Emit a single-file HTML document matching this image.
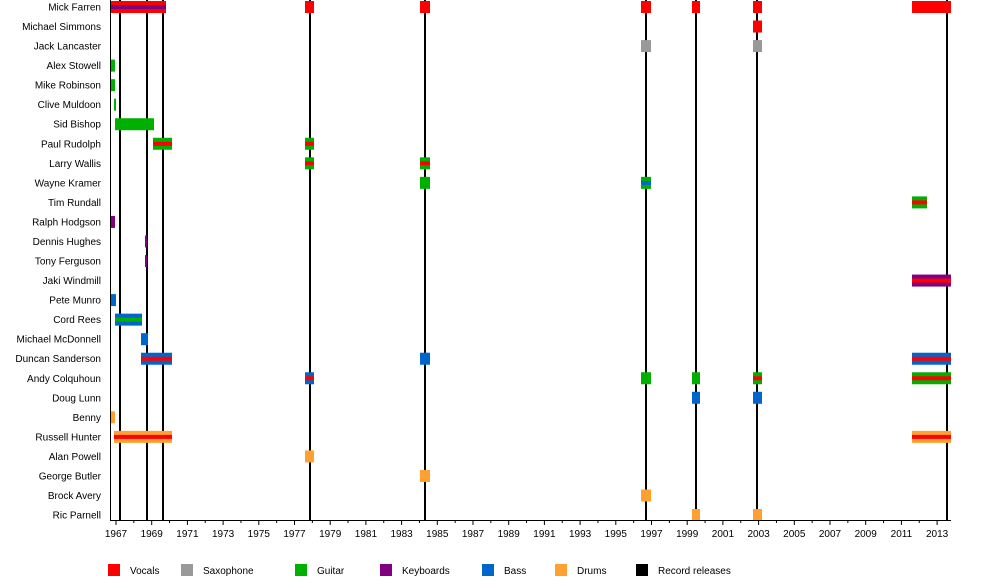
<!DOCTYPE html>
<html><head><meta charset="utf-8"><style>
body{margin:0;background:#fff;}
svg{display:block;font-family:"Liberation Sans",sans-serif;font-size:10px;}
</style></head><body>
<svg width="1000" height="580" viewBox="0 0 1000 580">
<g stroke="#000" stroke-width="2">
<line x1="120" y1="0" x2="120" y2="520"/><line x1="147" y1="0" x2="147" y2="520"/><line x1="163" y1="0" x2="163" y2="520"/>
<line x1="310" y1="0" x2="310" y2="520"/><line x1="425" y1="0" x2="425" y2="520"/><line x1="646" y1="0" x2="646" y2="520"/>
<line x1="696" y1="0" x2="696" y2="520"/><line x1="757" y1="0" x2="757" y2="520"/><line x1="947" y1="0" x2="947" y2="520"/>
</g>
<g id="bars"></g>
<g id="labels" text-anchor="end" fill="#000"></g>
<line x1="110.5" y1="0" x2="110.5" y2="521" stroke="#000" stroke-width="1"/>
<line x1="110" y1="520.5" x2="951" y2="520.5" stroke="#000" stroke-width="1"/>
<g id="ticks"></g>
<g id="legend"></g>
<script>
var NS="http://www.w3.org/2000/svg";
function el(p,t,a,txt){var e=document.createElementNS(NS,t);for(var k in a)e.setAttribute(k,a[k]);if(txt!=null)e.textContent=txt;p.appendChild(e);return e;}
var C={r:"#ff0000",g:"#00b000",s:"#999999",p:"#800080",b:"#0066cc",o:"#ffa030"};
var names=["Mick Farren","Michael Simmons","Jack Lancaster","Alex Stowell","Mike Robinson","Clive Muldoon","Sid Bishop","Paul Rudolph","Larry Wallis","Wayne Kramer","Tim Rundall","Ralph Hodgson","Dennis Hughes","Tony Ferguson","Jaki Windmill","Pete Munro","Cord Rees","Michael McDonnell","Duncan Sanderson","Andy Colquhoun","Doug Lunn","Benny","Russell Hunter","Alan Powell","George Butler","Brock Avery","Ric Parnell"];
var bars=[
[0,111,166,"r","p"],[0,305,314,"r"],[0,420,430,"r"],[0,641,651,"r"],[0,692,700,"r"],[0,753,762,"r"],[0,912,951,"r"],
[1,753,762,"r"],[2,641,651,"s"],[2,753,762,"s"],[3,111,115,"g"],[4,111,115,"g"],[5,114,116,"g"],[6,115,154,"g"],
[7,153,172,"g","r"],[7,305,314,"g","r"],[8,305,314,"g","r"],[8,420,430,"g","r"],[9,420,430,"g"],[9,641,651,"g","b"],
[10,912,927,"g","r"],[11,111,115,"p"],[12,145,147,"p"],[13,145,147,"p"],[14,912,951,"p","r"],[15,111,116,"b"],
[16,115,142,"b","g"],[17,141,148,"b"],[18,141,172,"b","r"],[18,420,430,"b"],[18,912,951,"b","r"],
[19,305,314,"b","r"],[19,641,651,"g"],[19,692,700,"g"],[19,753,762,"g","r"],[19,912,951,"g","r"],
[20,692,700,"b"],[20,753,762,"b"],[21,111,115,"o"],[22,114,172,"o","r"],[22,912,951,"o","r"],
[23,305,314,"o"],[24,420,430,"o"],[25,641,651,"o"],[26,692,700,"o"],[26,753,762,"o"]];
var B=document.getElementById("bars"),L=document.getElementById("labels"),T=document.getElementById("ticks"),G=document.getElementById("legend");
function cy(i){return 7+i*19.54;}
names.forEach(function(n,i){el(L,"text",{x:101,y:cy(i)+3.5},n);});
bars.forEach(function(b){var y=cy(b[0]);el(B,"rect",{x:b[1],y:y-6,width:b[2]-b[1],height:12,fill:C[b[3]]});
if(b[4])el(B,"rect",{x:b[1],y:y-2,width:b[2]-b[1],height:4,fill:C[b[4]]});});
for(var yr=1967;yr<=2013;yr++){var x=116+(yr-1967)*17.85;
el(T,"line",{x1:x,y1:520,x2:x,y2:(yr%2?525:523),stroke:"#000","stroke-width":1});
if(yr%2)el(T,"text",{x:x,y:537,"text-anchor":"middle"},yr);}
var lg=[["r","Vocals",108],["s","Saxophone",181],["g","Guitar",295],["p","Keyboards",380],["b","Bass",482],["o","Drums",555],["k","Record releases",636]];
lg.forEach(function(l){el(G,"rect",{x:l[2],y:564,width:12,height:12,fill:l[0]=="k"?"#000":C[l[0]]});el(G,"text",{x:l[2]+22,y:574},l[1]);});
</script>
</svg>
</body></html>
